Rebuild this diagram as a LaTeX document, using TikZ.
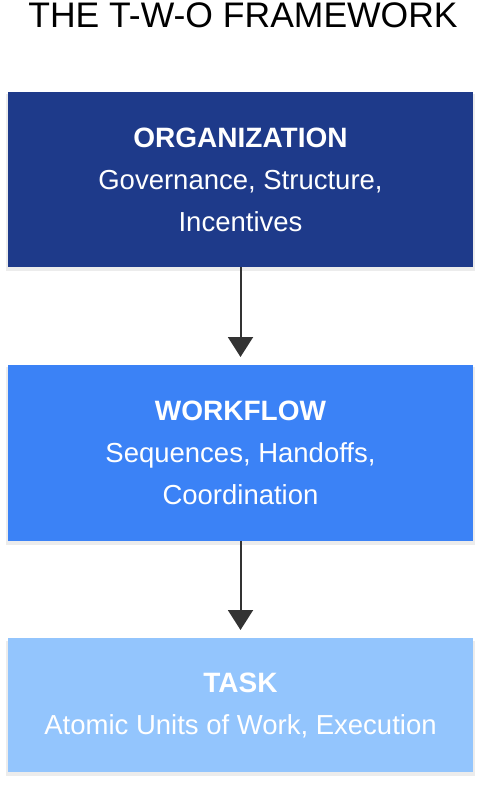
\documentclass[tikz,border=0pt]{standalone}
\usepackage{fontspec}
\setmainfont{Liberation Sans}
\usetikzlibrary{arrows.meta,shadows}
\definecolor{orgblue}{HTML}{1E3A8A}
\definecolor{wfblue}{HTML}{3B82F6}
\definecolor{taskblue}{HTML}{93C5FD}
\definecolor{arrowgray}{HTML}{333333}

\begin{document}
\begin{tikzpicture}[x=1pt,y=-1pt,
  layer/.style={rectangle,anchor=north,inner sep=0pt,minimum width=465pt,text=white,align=center,
    font=\fontsize{27.5}{42}\selectfont,drop shadow={opacity=0.15,shadow scale=1.01,shadow xshift=0pt,shadow yshift=-3pt}},
  flow/.style={draw=arrowgray,line width=2pt,-{Triangle[width=25pt,length=20pt]},shorten >=8pt}]
\useasboundingbox (0,0) rectangle (485,786);
\node[anchor=base,font=\fontsize{35.5}{42}\selectfont] (title) at (243,28) {THE T-W-O FRAMEWORK};
% the three levels
\node[layer,fill=orgblue,minimum height=175pt] (org) at (240.5,92)
  {\textbf{\fontsize{28}{42}\selectfont ORGANIZATION}\\Governance, Structure,\\Incentives};
\node[layer,fill=wfblue,minimum height=176pt] (wf) at (240.5,365)
  {\textbf{\fontsize{28}{42}\selectfont WORKFLOW}\\Sequences, Handoffs,\\Coordination};
\node[layer,fill=taskblue,minimum height=134pt] (task) at (240.5,638)
  {\textbf{\fontsize{28}{42}\selectfont TASK}\\Atomic Units of Work, Execution};
% arrows
\draw[flow] (org.south) -- (wf.north);
\draw[flow] (wf.south) -- (task.north);
\end{tikzpicture}
\end{document}
